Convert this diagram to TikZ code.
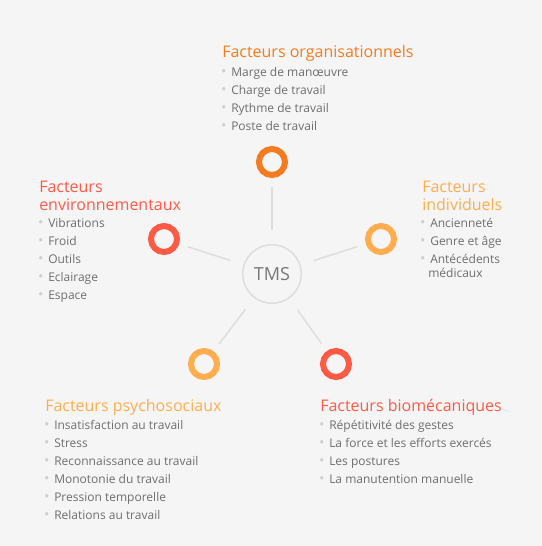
\documentclass[tikz,border=0pt]{standalone}
\usepackage{fontspec}
\setmainfont{Open Sans}
\usetikzlibrary{positioning}
\definecolor{bg}{HTML}{F5F5F5}
\definecolor{orgcol}{HTML}{F47B20}
\definecolor{redcol}{HTML}{FF5A45}
\definecolor{ambcol}{HTML}{FFAD4F}
\definecolor{txtgray}{HTML}{6E6E6E}
\definecolor{hubgray}{HTML}{777777}
\definecolor{dotgray}{HTML}{D0D0D0}
\definecolor{linegray}{HTML}{DDDDDD}
\newcommand\bul{\makebox[0pt][r]{\textcolor{dotgray}{\scalebox{1.2}{•}}\hspace{3.5pt}}}

\begin{document}
\begin{tikzpicture}[x=0.75pt, y=-0.75pt,
    ring/.style={circle, draw=#1, line width=4.5pt, minimum size=19.5pt, inner sep=0pt},
    hub/.style={circle, draw=linegray, line width=1.1pt, minimum size=43.9pt, inner sep=0pt,
      text=hubgray, font=\fontsize{13.5pt}{16pt}\selectfont},
    spoke/.style={draw=linegray, line width=1.1pt, shorten <=10.5pt, shorten >=6.75pt},
    title/.style={anchor=base west, inner sep=0pt, align=left, text=#1,
      font=\fontsize{12pt}{13.5pt}\selectfont},
    item/.style={anchor=base west, inner sep=0pt, align=left, text=txtgray,
      font=\fontsize{9pt}{13.5pt}\selectfont}]
	\fill[bg] (0,0) rectangle (542,546);
	\node[hub] (tms) at (272,274) {TMS};
	\node[ring=orgcol] (org) at (272,162) {};
	\node[ring=redcol] (env) at (164,239) {};
	\node[ring=ambcol] (ind) at (381,239) {};
	\node[ring=ambcol] (psy) at (204,364) {};
	\node[ring=redcol] (bio) at (336,364) {};
	\foreach \r in {org,env,ind,psy,bio}
		\draw[spoke] (tms) -- (\r);
	% multi-line nodes sit on the baseline of their last line
	\node[title=orgcol] (orgt) at (222,57) {Facteurs organisationnels};
	\node[item] (orgl) at (231,130) {\bul Marge de manœuvre\\\bul Charge de travail\\\bul Rythme de travail\\\bul Poste de travail};
	\node[title=redcol] (envt) at (39,210) {Facteurs\\environnementaux};
	\node[item] (envl) at (48,299) {\bul Vibrations\\\bul Froid\\\bul Outils\\\bul Eclairage\\\bul Espace};
	\node[title=ambcol] (indt) at (422,210) {Facteurs\\individuels};
	\node[item] (indl) at (430,277) {\bul Ancienneté\\\bul Genre et âge\\\bul Antécédents\\[-3pt]\hspace{-1.5pt}médicaux};
	\node[title=ambcol] (psyt) at (45,411) {Facteurs psychosociaux};
	\node[item] (psyl) at (54,519) {\bul Insatisfaction au travail\\\bul Stress\\\bul Reconnaissance au travail\\\bul Monotonie du travail\\\bul Pression temporelle\\\bul Relations au travail};
	\node[title=redcol] (biot) at (320,411) {Facteurs biomécaniques};
	\node[item] (biol) at (329,483) {\bul Répétitivité des gestes\\\bul La force et les efforts exercés\\\bul Les postures\\\bul La manutention manuelle};
\end{tikzpicture}
\end{document}
